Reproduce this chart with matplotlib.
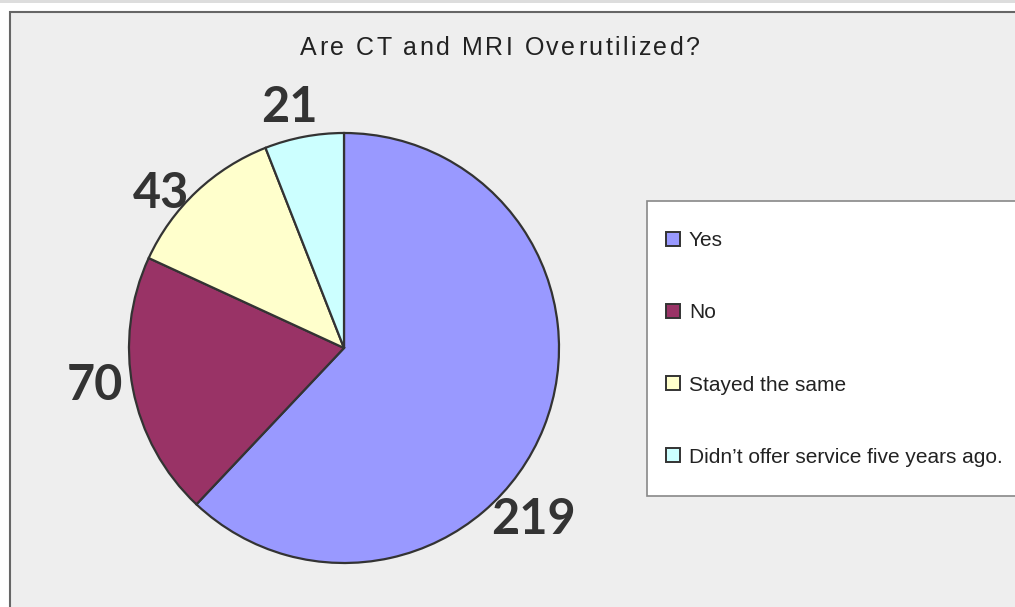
import numpy as np
import matplotlib
matplotlib.use("Agg")
from matplotlib import pyplot as plt
from matplotlib.patches import Rectangle
from matplotlib.lines import Line2D

# Datos del gráfico
categories = ["Yes", "No", "Stayed the same", "Didn\u2019t offer service five years ago."]
counts = [219, 70, 43, 21]
colors = ["#9999FF", "#993366", "#FFFFCC", "#CCFFFF"]
title = "Are CT and MRI Overutilized?"

W, H = 1015, 607
fig = plt.figure(figsize=(W / 100, H / 100), dpi=100, facecolor="white")

def fx(px):
    return px / W

def fy(py):
    return 1 - py / H

# fondo: banda gris arriba y área del gráfico
fig.patches.append(Rectangle((0, fy(3)), 1, 3 / H, transform=fig.transFigure,
                             facecolor="#DDDDDD", edgecolor="none", zorder=-3))
fig.patches.append(Rectangle((fx(10), fy(630)), fx(1030), 618 / H, transform=fig.transFigure,
                             facecolor="#EEEEEE", edgecolor="#666666", linewidth=1.5, zorder=-3))

# caja de la leyenda
fig.patches.append(Rectangle((fx(647), fy(496)), fx(400), 295 / H, transform=fig.transFigure,
                             facecolor="white", edgecolor="#888888", linewidth=1.2, zorder=-2))

# título con letras espaciadas (como lo dibuja Excel)
renderer = fig.canvas.get_renderer()
tprops = dict(fontsize=18, family="Liberation Sans", color="#222222")

def text_w(s):
    t = fig.text(0, 0, s + "|", **tprops)
    bar = fig.text(0, 0, "|", **tprops)
    w = t.get_window_extent(renderer).width - bar.get_window_extent(renderer).width
    t.remove()
    bar.remove()
    return w

spacing = 2.5
total = text_w(title) + spacing * (len(title) - 1)
x0 = 500 - total / 2
for i, ch in enumerate(title):
    if ch == " ":
        continue
    xpos = x0 + text_w(title[:i]) + spacing * i
    fig.text(fx(xpos), fy(48), ch, ha="left", va="center", **tprops)

# pastel: centro (344, 348), radio 215 px
cx, cy, r = 344, 348, 215
ax = fig.add_axes([fx(cx - r), fy(cy + r), 2 * r / W, 2 * r / H])
ax.set_zorder(1)
wedges, _ = ax.pie(counts, colors=colors, startangle=90, counterclock=False,
                   wedgeprops=dict(edgecolor="#333333", linewidth=1.6))
ax.set_xlim(-1, 1)
ax.set_ylim(-1, 1)
ax.set_axis_off()

# etiquetas con los valores (Excel las mueve un poco)
label_shift = [-20, -3, 6, 2]
label_dist = [1.18, 1.17, 1.12, 1.16]
for w, n, sh, d in zip(wedges, counts, label_shift, label_dist):
    ang = np.deg2rad((w.theta1 + w.theta2) / 2 + sh)
    ax.text(d * np.cos(ang), d * np.sin(ang) - 0.012, str(n), ha="center", va="center",
            fontsize=35, fontweight="bold", family="Lato", color="#333333",
            clip_on=False)

handles = [Line2D([], [], linestyle="none", marker="s", markersize=9.5,
                  markerfacecolor=c, markeredgecolor="#333333", markeredgewidth=1.4)
           for c in colors]
leg = fig.legend(handles, categories, loc="center left",
                 bbox_to_anchor=(fx(666), fy(349)), frameon=False,
                 prop={"family": "Liberation Sans", "size": 15},
                 labelspacing=2.55, handlelength=0.7, handletextpad=0.4,
                 borderpad=0, borderaxespad=0)
for t in leg.get_texts():
    t.set_color("#222222")

fig.savefig("out.png", dpi=100, facecolor="white")
